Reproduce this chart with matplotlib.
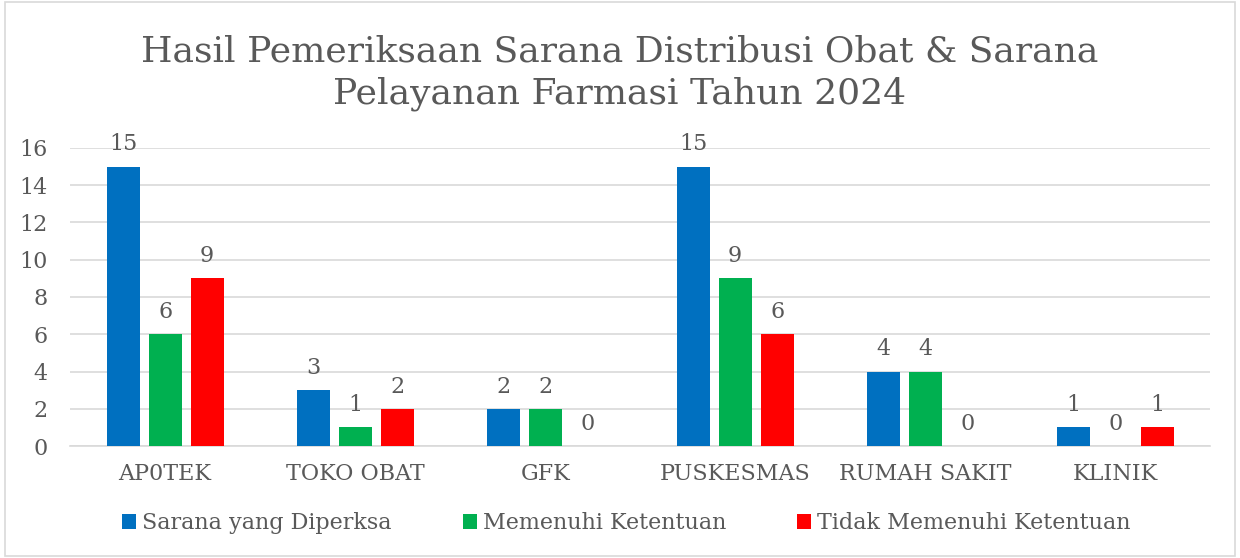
import numpy as np
import matplotlib.pyplot as plt
from matplotlib.patches import Rectangle

kategori = ['AP0TEK', 'TOKO OBAT', 'GFK', 'PUSKESMAS', 'RUMAH SAKIT', 'KLINIK']
diperiksa = [15, 3, 2, 15, 4, 1]
memenuhi = [6, 1, 2, 9, 4, 0]
tidak_memenuhi = [9, 2, 0, 6, 0, 1]

seri = ['Sarana yang Diperksa', 'Memenuhi Ketentuan', 'Tidak Memenuhi Ketentuan']
warna = ['#0070C0', '#00B050', '#FF0000']
abu = '#595959'

plt.rcParams['font.family'] = ['DejaVu Serif']

fig = plt.figure(figsize=(12.4, 5.58), dpi=100)
ax = fig.add_axes([0.0565, 0.2007, 0.9195, 0.5341])

x = np.arange(len(kategori))
lebar = 0.174
jarak = 0.221

for i, (nilai, w, nama) in enumerate(zip([diperiksa, memenuhi, tidak_memenuhi], warna, seri)):
    pos = x + (i - 1) * jarak
    bars = ax.bar(pos, nilai, lebar, color=w, label=nama, zorder=3)
    for b, v in zip(bars, nilai):
        ax.annotate(str(v), (b.get_x() + b.get_width() / 2, v),
                    xytext=(0, 8), textcoords='offset points',
                    ha='center', va='bottom', fontsize=16, color=abu)

ax.set_xlim(-0.5, len(kategori) - 0.5)
ax.set_ylim(0, 16)
ax.set_yticks(np.arange(0, 17, 2))
ax.set_xticks(x)
ax.set_xticklabels(kategori)
ax.tick_params(axis='both', length=0, labelsize=16, labelcolor=abu)
ax.tick_params(axis='x', pad=12)
ax.tick_params(axis='y', pad=16)
ax.grid(axis='y', color='#D9D9D9', linewidth=1.2, zorder=0)
for s in ['top', 'right', 'left']:
    ax.spines[s].set_visible(False)
ax.spines['bottom'].set_color('#D9D9D9')
ax.spines['bottom'].set_linewidth(1.2)

fig.text(0.5, 0.869, 'Hasil Pemeriksaan Sarana Distribusi Obat & Sarana\nPelayanan Farmasi Tahun 2024',
         ha='center', va='center', fontsize=26, color=abu, linespacing=1.3)

fig.legend(loc='center', bbox_to_anchor=(0.505, 0.062), ncol=3, frameon=False,
           fontsize=16, labelcolor=abu, handlelength=0.65, handleheight=0.65,
           handletextpad=0.25, columnspacing=3.2)

fig.patches.append(Rectangle((0.004, 0.004), 0.992, 0.992, transform=fig.transFigure,
                             fill=False, edgecolor='#D9D9D9', linewidth=1.2))

plt.savefig('out.png')
